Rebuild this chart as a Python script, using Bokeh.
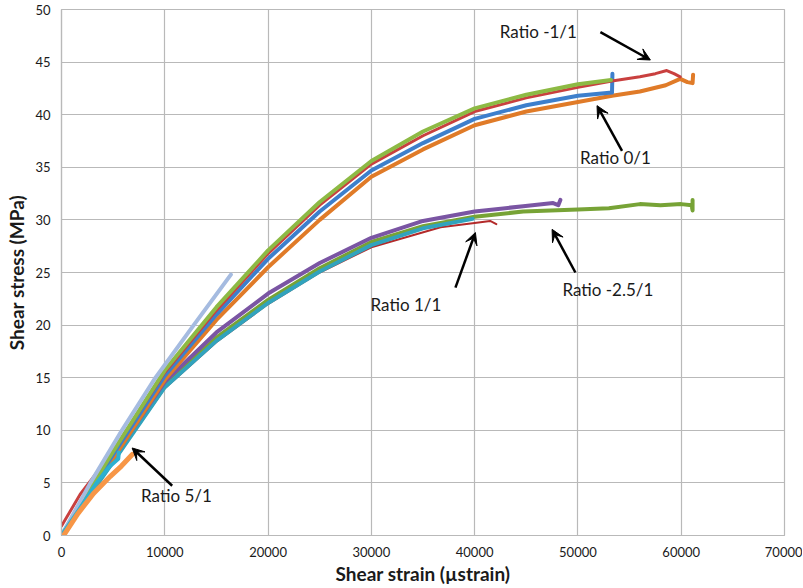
from bokeh.plotting import figure
from bokeh.models import FixedTicker, Label, Arrow, VeeHead, Range1d
from bokeh.embed import file_html
from bokeh.resources import INLINE

# ---- data: shear strain (µstrain) vs shear stress (MPa) ----
# Ratio 5/1 group
lb_x = [0, 2800, 5850, 9100, 12800, 16400]
lb_y = [0, 5, 10, 15, 20, 24.8]
cy_x = [0, 1800, 3400, 4600, 5500, 5550]
cy_y = [0, 2.6, 5.0, 6.5, 7.3, 7.9]
lo_x = [200, 1600, 3100, 4700, 5800, 6850]
lo_y = [0, 2.1, 4.0, 5.6, 6.6, 7.7]

# Upper group (Ratio -1/1, Ratio 0/1)
gr_x = [0, 5000, 10000, 15000, 20000, 25000, 30000, 35000, 40000, 45000, 50000, 53200]
gr_y = [0, 8.0, 15.7, 21.7, 27.1, 31.7, 35.6, 38.4, 40.6, 41.9, 42.9, 43.3]
rd_x = [0, 1800, 5000, 10000, 15000, 20000, 25000, 30000, 35000, 40000, 45000, 50000,
        53300, 56000, 57500, 58600, 59300, 59900]
rd_y = [0.9, 3.9, 8.0, 15.5, 21.4, 26.8, 31.4, 35.3, 38.0, 40.3, 41.6, 42.6,
        43.2, 43.6, 43.9, 44.2, 43.9, 43.6]
bl_x = [0, 5000, 10000, 15000, 20000, 25000, 30000, 35000, 40000, 45000, 50000, 53300, 53340]
bl_y = [0, 7.7, 15.2, 21.0, 26.3, 30.8, 34.7, 37.3, 39.6, 40.9, 41.8, 42.1, 43.9]
or_x = [0, 5000, 10000, 15000, 20000, 25000, 30000, 35000, 40000, 45000, 50000, 53300,
        56000, 58500, 59900, 60600, 61100, 61150]
or_y = [0, 7.3, 14.8, 20.5, 25.5, 30.0, 34.1, 36.7, 39.0, 40.3, 41.2, 41.8,
        42.2, 42.8, 43.4, 43.1, 43.0, 43.8]

# Lower group (Ratio 1/1, Ratio -2.5/1)
pu_x = [0, 5000, 10000, 15000, 20000, 25000, 30000, 35000, 40000, 44700, 47600, 48100, 48300]
pu_y = [0, 7.4, 14.6, 19.3, 23.0, 25.9, 28.3, 29.9, 30.8, 31.3, 31.6, 31.4, 31.9]
ol_x = [0, 5000, 10000, 15000, 20000, 25000, 30000, 35000, 40000, 44700, 50000, 53000,
        56000, 58000, 60000, 61000, 61100, 61100]
ol_y = [0, 7.1, 14.3, 18.8, 22.4, 25.4, 27.9, 29.4, 30.3, 30.8, 31.0, 31.1,
        31.5, 31.4, 31.5, 31.4, 30.9, 31.9]
te_x = [0, 5000, 10000, 15000, 20000, 25000, 30000, 35000, 39800]
te_y = [0, 7.0, 14.1, 18.5, 22.1, 25.1, 27.6, 29.2, 30.1]
dr_x = [0, 5000, 10000, 15000, 20000, 25000, 30000, 36700, 40000, 41500, 42100]
dr_y = [0, 7.0, 14.0, 18.4, 22.0, 25.0, 27.4, 29.3, 29.7, 29.9, 29.6]

x_ticks = [0, 10000, 20000, 30000, 40000, 50000, 60000, 70000]
y_ticks = [0, 5, 10, 15, 20, 25, 30, 35, 40, 45, 50]

# annotations
ann_text = ["Ratio -1/1", "Ratio 0/1", "Ratio 1/1", "Ratio -2.5/1", "Ratio 5/1"]
ann_x = [46170, 53630, 33350, 52900, 11130]
ann_y = [47.9, 35.95, 22.0, 23.35, 3.83]
arr_x0 = [52175, 54270, 38140, 49755, 10715]
arr_y0 = [47.85, 36.57, 23.56, 25.0, 4.73]
arr_x1 = [57015, 51850, 40075, 47500, 6840]
arr_y1 = [45.2, 40.86, 28.8, 29.1, 8.32]

GRID = "#b9b9b9"
FONT = "Lato"

p = figure(width=802, height=587, x_range=Range1d(0, 70000), y_range=Range1d(0, 50),
           output_backend="svg", toolbar_location=None,
           min_border_left=61, min_border_right=18, min_border_top=9, min_border_bottom=44)
p.background_fill_color = "white"
p.border_fill_color = "white"
p.outline_line_color = GRID
p.outline_line_width = 1.2

for ax in (p.xaxis[0], p.yaxis[0]):
    ax.axis_line_color = GRID
    ax.axis_line_width = 1.2
    ax.major_tick_line_color = None
    ax.minor_tick_line_color = None
    ax.major_label_text_font = FONT
    ax.major_label_text_font_size = "13px"
    ax.major_label_text_color = "#1a1a1a"
    ax.axis_label_text_font = FONT
    ax.axis_label_text_font_style = "bold"
    ax.axis_label_text_font_size = "19px"
    ax.axis_label_text_color = "#1a1a1a"

p.xaxis.ticker = FixedTicker(ticks=x_ticks)
p.yaxis.ticker = FixedTicker(ticks=y_ticks)
p.xaxis.axis_label = "Shear strain (µstrain)"
p.yaxis.axis_label = "Shear stress (MPa)"
p.xaxis.major_label_standoff = 5
p.xaxis.axis_label_standoff = 2
p.yaxis.major_label_standoff = 5
p.yaxis.axis_label_standoff = 4

p.xgrid.ticker = FixedTicker(ticks=x_ticks)
p.ygrid.ticker = FixedTicker(ticks=y_ticks)
p.grid.grid_line_color = GRID
p.grid.grid_line_width = 1.2

def ln(x, y, c, w=4):
    p.line(x, y, line_color=c, line_width=w, line_join="round", line_cap="round")

# lower group
ln(ol_x, ol_y, "#77a336")
ln(dr_x, dr_y, "#b32a2a", 2)
ln(te_x, te_y, "#31a3bd")
ln(pu_x, pu_y, "#7a55a3")
# upper group
ln(or_x, or_y, "#e07b28")
ln(bl_x, bl_y, "#3d7fcc")
ln(rd_x, rd_y, "#c9403f", 3)
ln(gr_x, gr_y, "#8dba44")
# 5/1 group
ln(lb_x, lb_y, "#a5bbe0")
ln(cy_x, cy_y, "#2cb0d0")
ln(lo_x, lo_y, "#f79646", 5)

for t, x, y in zip(ann_text, ann_x, ann_y):
    p.add_layout(Label(x=x, y=y, text=t, text_font=FONT, text_font_size="17px",
                       text_color="#1a1a1a", text_align="center", text_baseline="middle"))

for x0, y0, x1, y1 in zip(arr_x0, arr_y0, arr_x1, arr_y1):
    p.add_layout(Arrow(x_start=x0, y_start=y0, x_end=x1, y_end=y1, line_width=2.5, line_color="black",
                       end=VeeHead(size=12, fill_color="black", line_color="black", line_width=1)))

open("out.html", "w").write(file_html(p, INLINE))
